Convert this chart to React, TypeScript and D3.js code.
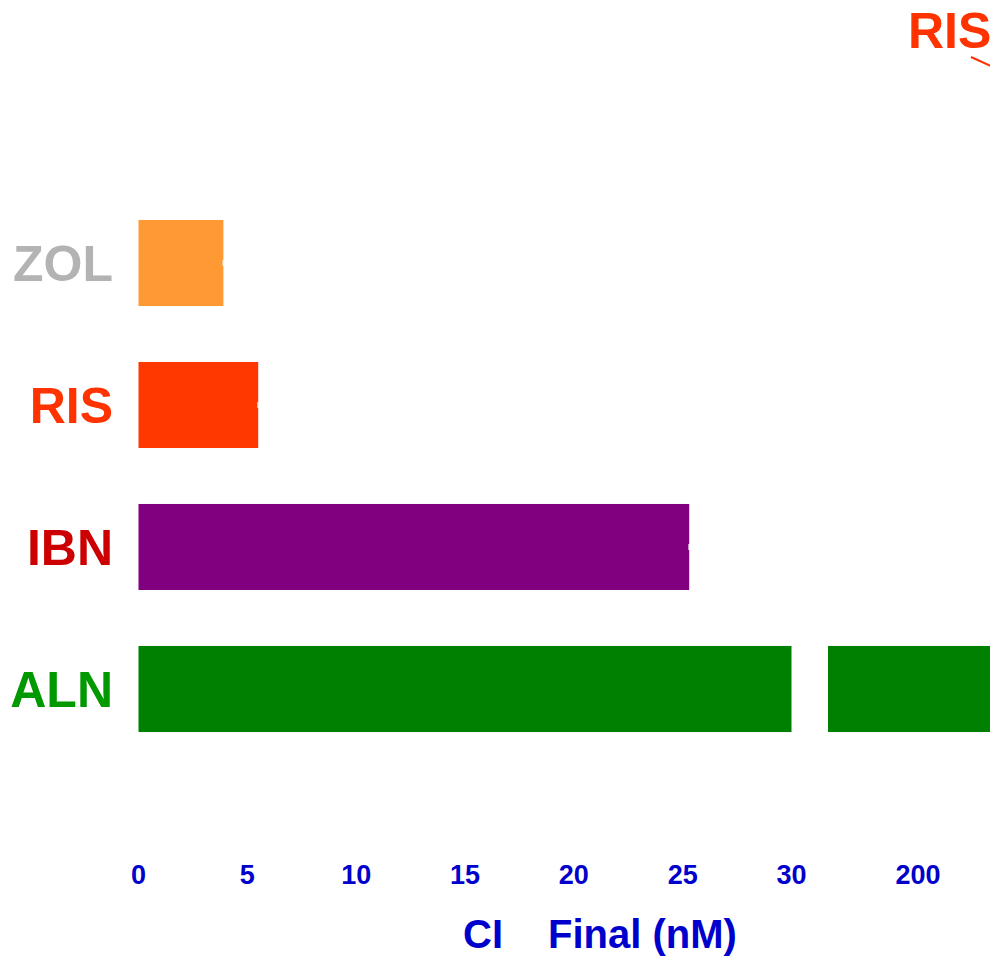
import React from "react";
import * as d3 from "d3";

const categories = ["ZOL", "RIS", "IBN", "ALN"];
const values = [3.9, 5.5, 25.3, 220];
const labelColors = ["#b3b3b3", "#ff3300", "#cc0000", "#009900"];
const barColors = ["#ff9933", "#ff3800", "#800080", "#008000"];
const ticksLow = [0, 5, 10, 15, 20, 25, 30];
const ticksHigh = [200];
const lowDomain = [0, 30];
const highDomain = [180, 230];

const W = 990;
const H = 958;
const FONT = "'Liberation Sans', Arial, Helvetica, sans-serif";

export default function App() {
  const xLow = d3.scaleLinear().domain(lowDomain).range([138.5, 791.5]);
  const xHigh = d3.scaleLinear().domain(highDomain).range([828, 1053]);
  const y = d3
    .scaleBand<string>()
    .domain(categories)
    .range([192, 760])
    .paddingInner(0.394)
    .paddingOuter(0.197);

  return (
    <svg
      width={W}
      height={H}
      style={{ position: "absolute", left: 0, top: 0, background: "#fff" }}
      fontFamily={FONT}
    >
      {/* clipped annotation at top right */}
      <text x={908} y={48} fontSize={50} fontWeight="bold" fill="#ff3300">
        RIS
      </text>
      <line x1={971} y1={57} x2={995} y2={68} stroke="#ff3300" strokeWidth={2} />

      {categories.map((c, i) => {
        const y0 = y(c) as number;
        const bw = y.bandwidth();
        const v = values[i];
        const lowEnd = xLow(Math.min(v, lowDomain[1]));
        return (
          <g key={c}>
            <text
              x={113}
              y={y0 + bw / 2 + 18}
              textAnchor="end"
              fontSize={50}
              fontWeight="bold"
              fill={labelColors[i]}
            >
              {c}
            </text>
            <rect
              x={xLow(0)}
              y={y0}
              width={lowEnd - xLow(0)}
              height={bw}
              fill={barColors[i]}
            />
            {v > lowDomain[1] && (
              <rect
                x={xHigh(highDomain[0])}
                y={y0}
                width={xHigh(Math.min(v, highDomain[1])) - xHigh(highDomain[0])}
                height={bw}
                fill={barColors[i]}
              />
            )}
            {v <= lowDomain[1] && (
              <rect
                x={lowEnd - 1}
                y={y0 + bw / 2 - 3}
                width={2}
                height={6}
                fill="#ffffff"
                opacity={0.75}
              />
            )}
          </g>
        );
      })}

      {ticksLow.map((t) => (
        <text
          key={"l" + t}
          x={xLow(t)}
          y={884}
          textAnchor="middle"
          fontSize={27}
          fontWeight="bold"
          fill="#0000cc"
        >
          {t}
        </text>
      ))}
      {ticksHigh.map((t) => (
        <text
          key={"h" + t}
          x={xHigh(t)}
          y={884}
          textAnchor="middle"
          fontSize={27}
          fontWeight="bold"
          fill="#0000cc"
        >
          {t}
        </text>
      ))}

      <text x={463} y={948} fontSize={40} fontWeight="bold" fill="#0000cc">
        CI
      </text>
      <text x={548} y={948} fontSize={40} fontWeight="bold" fill="#0000cc">
        Final (nM)
      </text>
    </svg>
  );
}
